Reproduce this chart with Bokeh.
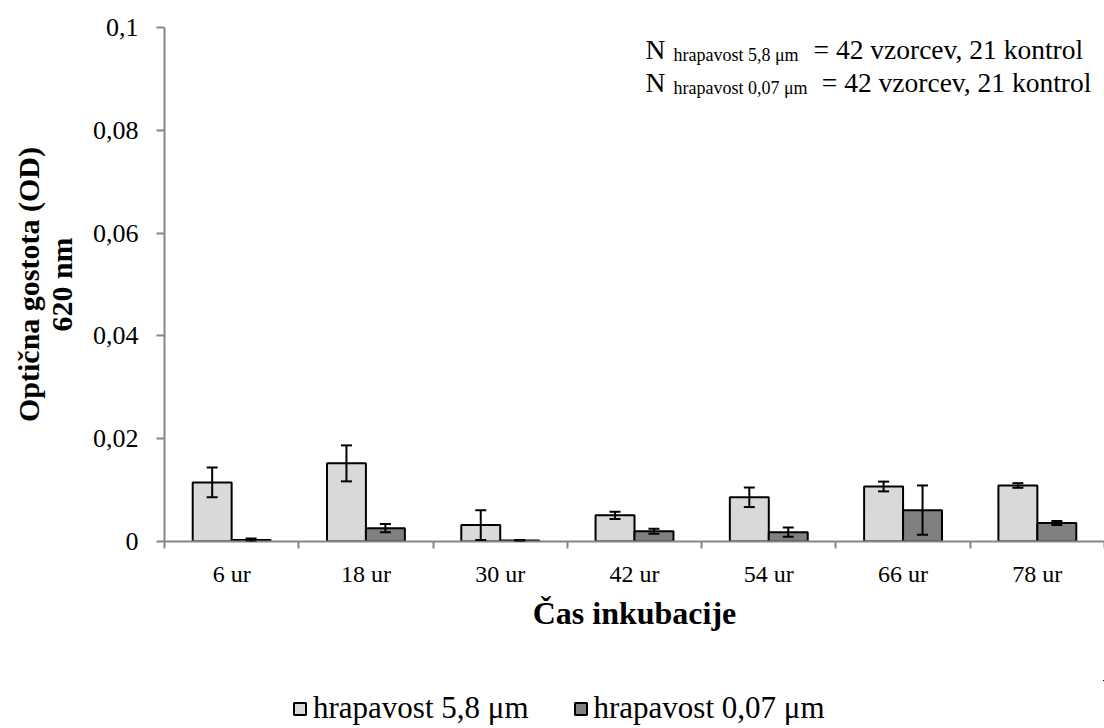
from bokeh.plotting import figure
from bokeh.layouts import column
from bokeh.models import (ColumnDataSource, Range1d, FixedTicker, CustomJSTickFormatter,
                          Whisker, TeeHead, Legend, LegendItem, Label)
from bokeh.embed import file_html
from bokeh.resources import INLINE

categories = ["6 ur", "18 ur", "30 ur", "42 ur", "54 ur", "66 ur", "78 ur"]
series_names = ["hrapavost 5,8 μm", "hrapavost 0,07 μm"]
rough_vals = [0.0115, 0.0152, 0.0032, 0.0051, 0.0086, 0.0107, 0.0109]
rough_err = [0.0029, 0.0035, 0.0029, 0.0007, 0.0019, 0.00095, 0.00045]
smooth_vals = [0.0003, 0.0026, 0.0002, 0.0020, 0.0018, 0.0061, 0.0036]
smooth_err = [0.0003, 0.0008, 0.0001, 0.0005, 0.0009, 0.0048, 0.0004]
y_ticks = [0, 0.02, 0.04, 0.06, 0.08, 0.1]
note_subs = ["hrapavost 5,8 μm", "hrapavost 0,07 μm"]
note_text = "= 42 vzorcev, 21 kontrol"

FONT = "Liberation Serif"
AXIS_COL = "#868686"
FILLS = ["#d9d9d9", "#808080"]
BAR_W = 0.29
OFF = 0.145

n = len(categories)
centers = [i + 0.5 for i in range(n)]
bounds = list(range(n + 1))

p = figure(width=1104, height=680, output_backend="svg", toolbar_location=None,
           x_range=Range1d(0, n), y_range=Range1d(0, 0.1),
           min_border_left=164, min_border_right=0, min_border_top=27, min_border_bottom=139)
p.outline_line_color = None
p.xgrid.visible = False
p.ygrid.visible = False
p.background_fill_color = "white"
p.border_fill_color = "white"

src1 = ColumnDataSource(dict(x=[c - OFF for c in centers], top=rough_vals,
                             upper=[v + e for v, e in zip(rough_vals, rough_err)],
                             lower=[v - e for v, e in zip(rough_vals, rough_err)]))
src2 = ColumnDataSource(dict(x=[c + OFF for c in centers], top=smooth_vals,
                             upper=[v + e for v, e in zip(smooth_vals, smooth_err)],
                             lower=[max(v - e, 0) for v, e in zip(smooth_vals, smooth_err)]))

p.vbar(x="x", top="top", width=BAR_W, source=src1, fill_color=FILLS[0],
       line_color="black", line_width=2)
p.vbar(x="x", top="top", width=BAR_W, source=src2, fill_color=FILLS[1],
       line_color="black", line_width=2)

for s in (src1, src2):
    w = Whisker(base="x", upper="upper", lower="lower", source=s, line_width=2,
                line_color="black", level="overlay",
                upper_head=TeeHead(size=11, line_width=2, line_color="black"),
                lower_head=TeeHead(size=11, line_width=2, line_color="black"))
    p.add_layout(w)

# x axis
p.xaxis.ticker = FixedTicker(ticks=centers, minor_ticks=bounds)
p.xaxis.major_label_overrides = {c: lab for c, lab in zip(centers, categories)}
p.xaxis.major_tick_in = 0
p.xaxis.major_tick_out = 0
p.xaxis.minor_tick_in = 0
p.xaxis.minor_tick_out = 7
p.xaxis.minor_tick_line_color = AXIS_COL
p.xaxis.minor_tick_line_width = 2
p.xaxis.axis_line_color = AXIS_COL
p.xaxis.axis_line_width = 2
p.xaxis.major_label_text_font = FONT
p.xaxis.major_label_text_font_size = "24px"
p.xaxis.major_label_text_color = "black"
p.xaxis.major_label_standoff = 12
p.xaxis.axis_label = "Čas inkubacije"
p.xaxis.axis_label_text_font = FONT
p.xaxis.axis_label_text_font_style = "bold"
p.xaxis.axis_label_text_font_size = "32px"
p.xaxis.axis_label_text_color = "black"
p.xaxis.axis_label_standoff = 5

# y axis
p.yaxis.ticker = FixedTicker(ticks=y_ticks, minor_ticks=[])
p.yaxis.formatter = CustomJSTickFormatter(code="return (+tick.toFixed(3)).toString().replace('.', ',');")
p.yaxis.major_tick_in = 0
p.yaxis.major_tick_out = 8
p.yaxis.major_tick_line_color = AXIS_COL
p.yaxis.major_tick_line_width = 2
p.yaxis.axis_line_color = AXIS_COL
p.yaxis.axis_line_width = 2
p.yaxis.major_label_text_font = FONT
p.yaxis.major_label_text_font_size = "26px"
p.yaxis.major_label_text_color = "black"
p.yaxis.major_label_standoff = 18
p.yaxis.axis_label = "Optična gostota (OD)\n620 nm"
p.yaxis.axis_label_text_font = FONT
p.yaxis.axis_label_text_font_style = "bold"
p.yaxis.axis_label_text_font_size = "30px"
p.yaxis.axis_label_text_color = "black"
p.yaxis.axis_label_standoff = 12
p.yaxis.axis_label_text_line_height = 1.0

# annotation (top right)
note_pos = [(0.0957, 0.0946, 4.833), (0.0893, 0.0882, 4.895)]
for sub, (yb, ysub, xe) in zip(note_subs, note_pos):
    p.add_layout(Label(x=3.582, y=yb, text="N", text_font=FONT, text_font_size="27.5px",
                       text_color="black", text_baseline="alphabetic"))
    p.add_layout(Label(x=3.79, y=ysub, text=sub, text_font=FONT, text_font_size="18px",
                       text_color="black", text_baseline="alphabetic"))
    p.add_layout(Label(x=xe, y=yb, text=note_text, text_font=FONT,
                       text_font_size="27.5px", text_color="black", text_baseline="alphabetic"))

# legend strip below the chart: its renderers use ranges far from the data, so only
# the legend swatches and labels are visible
leg_fig = figure(width=1104, height=48, output_backend="svg", toolbar_location=None,
                 x_axis_location=None, y_axis_location=None,
                 x_range=Range1d(-21, -20), y_range=Range1d(-21, -20),
                 min_border=0)
leg_fig.outline_line_color = None
leg_fig.border_fill_color = "white"
leg_fig.background_fill_color = "white"
leg_fig.xgrid.visible = False
leg_fig.ygrid.visible = False
lr1 = leg_fig.vbar(x="x", top="top", width=BAR_W, source=src1, fill_color=FILLS[0],
                   line_color="black", line_width=2)
lr2 = leg_fig.vbar(x="x", top="top", width=BAR_W, source=src2, fill_color=FILLS[1],
                   line_color="black", line_width=2)
legend = Legend(items=[LegendItem(label=series_names[0], renderers=[lr1]),
                       LegendItem(label=series_names[1], renderers=[lr2])],
                location=(128, 2), orientation="horizontal",
                label_text_font=FONT, label_text_font_size="31px", label_text_color="black",
                glyph_width=15, glyph_height=15, label_standoff=6, spacing=44,
                padding=0, margin=0, border_line_color=None, background_fill_alpha=0)
leg_fig.add_layout(legend, "center")

layout = column(p, leg_fig, spacing=0)
open("out.html", "w").write(file_html(layout, INLINE))
